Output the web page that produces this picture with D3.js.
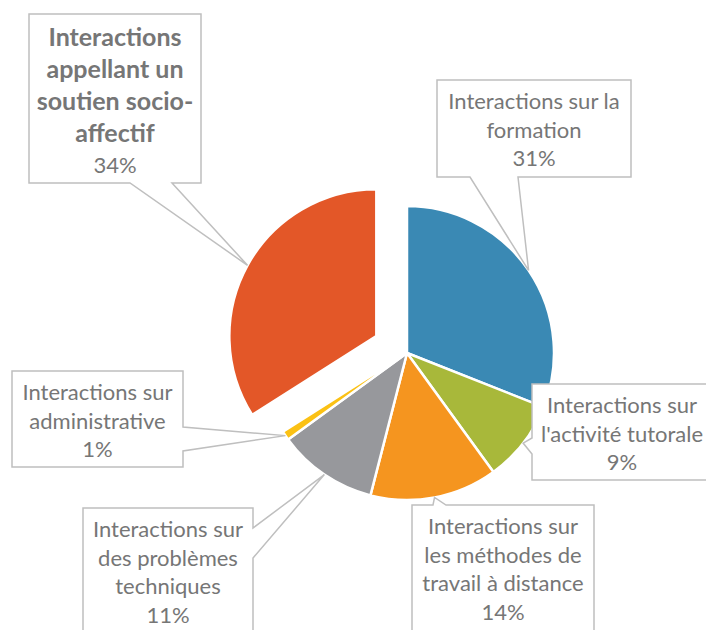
<!DOCTYPE html>
<html>
<head>
<meta charset="utf-8">
<script src="https://cdn.jsdelivr.net/npm/d3@7"></script>
<style>
  body { margin: 0; background: #fff; }
  svg { display: block; }
</style>
</head>
<body>
<div id="chart"></div>
<script>
// slices, clockwise from 12 o'clock
const categories = [
  "Interactions sur la\nformation",
  "Interactions sur\nl'activité tutorale",
  "Interactions sur\nles méthodes de\ntravail à distance",
  "Interactions sur\ndes problèmes\ntechniques",
  "Interactions sur\nadministrative",
  "Interactions\nappellant un\nsoutien socio-\naffectif"
];
const values = [31, 9, 14, 11, 1, 34];
const percentLabels = ["31%", "9%", "14%", "11%", "1%", "34%"];
const colors = ["#3a89b4", "#a8b83a", "#f5951f", "#97989c", "#fbc114", "#e35728"];

// callout boxes: position, size and the edge where the pointer leaves
const boxes = [
  { x: 437, y: 80,  w: 194, h: 97,  side: "bottom", notch: [470, 518] },
  { x: 532, y: 384, w: 180, h: 96,  side: "left",   notch: [438, 454] },
  { x: 412, y: 505, w: 182, h: 140, side: "top",    notch: [433, 446] },
  { x: 83,  y: 508, w: 170, h: 140, side: "right",  notch: [528, 558] },
  { x: 12,  y: 371, w: 171, h: 96,  side: "right",  notch: [427, 451] },
  { x: 29,  y: 14,  w: 172, h: 169, side: "bottom", notch: [130, 172] }
];

const width = 706, height = 630;
const cx = 407, cy = 353, radius = 147;
const explode = [0, 0, 0, 0, 0, 35];

const svg = d3.select("#chart").append("svg")
  .attr("width", width)
  .attr("height", height);

const pie = d3.pie().sort(null).value(d => d)(values);
const arc = d3.arc().innerRadius(0).outerRadius(radius);

const offset = (d, i) => {
  const a = (d.startAngle + d.endAngle) / 2;
  return [Math.sin(a) * explode[i], -Math.cos(a) * explode[i]];
};

const g = svg.append("g").attr("transform", `translate(${cx},${cy})`);

g.selectAll("path")
  .data(pie)
  .join("path")
  .attr("transform", (d, i) => `translate(${offset(d, i)})`)
  .attr("d", arc)
  .attr("fill", (d, i) => colors[i])
  .attr("stroke", "#fff")
  .attr("stroke-width", 2.5)
  .attr("stroke-linejoin", "round");

// callouts
const boxPath = (b, tip) => {
  const [x0, y0, x1, y1] = [b.x, b.y, b.x + b.w, b.y + b.h];
  const [n0, n1] = b.notch;
  let pts;
  if (b.side === "bottom") {
    pts = [[x0, y0], [x1, y0], [x1, y1], [n1, y1], tip, [n0, y1], [x0, y1]];
  } else if (b.side === "top") {
    pts = [[x0, y0], [n0, y0], tip, [n1, y0], [x1, y0], [x1, y1], [x0, y1]];
  } else if (b.side === "left") {
    pts = [[x0, y0], [x1, y0], [x1, y1], [x0, y1], [x0, n1], tip, [x0, n0]];
  } else {
    pts = [[x0, y0], [x1, y0], [x1, n0], tip, [x1, n1], [x1, y1], [x0, y1]];
  }
  return d3.line()(pts) + "Z";
};

const labels = svg.append("g");

pie.forEach((d, i) => {
  const a = (d.startAngle + d.endAngle) / 2;
  const [ox, oy] = offset(d, i);
  const tip = [cx + ox + Math.sin(a) * radius, cy + oy - Math.cos(a) * radius];
  const b = boxes[i];

  labels.append("path")
    .attr("d", boxPath(b, tip))
    .attr("fill", "#fff")
    .attr("stroke", "#bfbfbf")
    .attr("stroke-width", 1.5);

  const bold = i === 5;
  const lh = bold ? 32 : 28.5;
  const lines = categories[i].split("\n");
  const t = labels.append("text")
    .attr("text-anchor", "middle")
    .attr("font-family", "Lato, 'DejaVu Sans', sans-serif")
    .attr("fill", "#767676");
  const tx = b.x + b.w / 2;
  const y0 = b.y + (bold ? 32 : 29);
  lines.forEach((ln, k) => {
    t.append("tspan")
      .attr("x", tx)
      .attr("y", y0 + k * lh)
      .attr("font-size", bold ? 25 : 22)
      .attr("font-weight", bold ? "bold" : "normal")
      .text(ln);
  });
  t.append("tspan")
    .attr("x", tx)
    .attr("y", y0 + lines.length * lh - (bold ? 1 : 0))
    .attr("font-size", 22)
    .text(percentLabels[i]);
});
</script>
</body>
</html>
